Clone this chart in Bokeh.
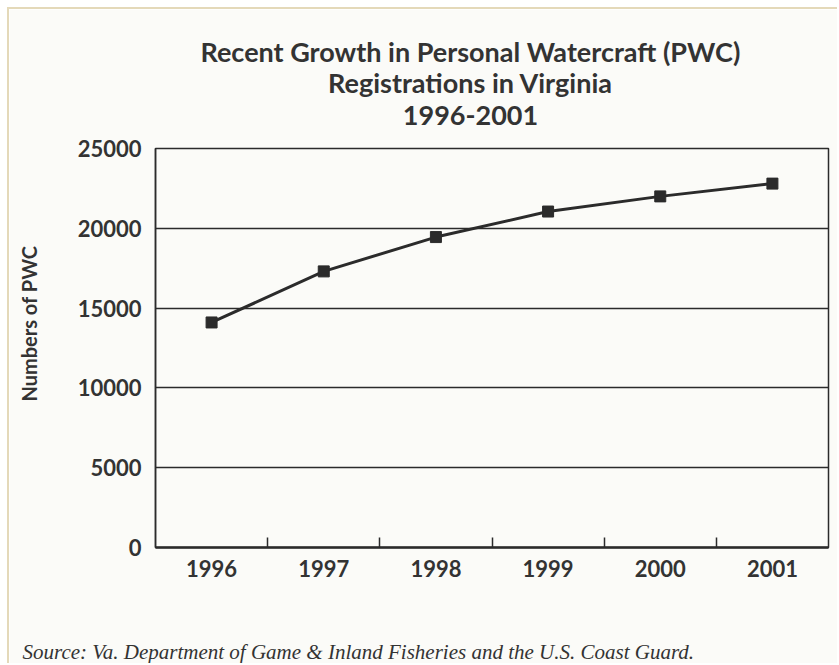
import math

from bokeh.plotting import figure
from bokeh.models import Range1d, FixedTicker, Label
from bokeh.embed import file_html
from bokeh.resources import INLINE

# --- data -------------------------------------------------------------
years = [1996, 1997, 1998, 1999, 2000, 2001]
year_labels = ["1996", "1997", "1998", "1999", "2000", "2001"]
registrations = [14100, 17300, 19450, 21050, 22000, 22800]
y_ticks = [0, 5000, 10000, 15000, 20000, 25000]
y_tick_labels = ["0", "5000", "10000", "15000", "20000", "25000"]

title_lines = [
    "Recent Growth in Personal Watercraft (PWC)",
    "Registrations in Virginia",
    "1996-2001",
]
y_title = "Numbers of PWC"
source_note = "Source: Va. Department of Game & Inland Fisheries and the U.S. Coast Guard."

# --- styling ----------------------------------------------------------
FONT = "Lato"
TEXT = "#333333"
INK = "#2b2b2b"
PAPER = "#fbfbf8"
EDGE = "#e4d9b9"

p = figure(
    width=830, height=656,
    x_range=Range1d(1995.5, 2001.5),
    y_range=Range1d(0, 25000),
    output_backend="svg",
    toolbar_location=None,
    min_border_left=146, min_border_top=139,
    min_border_right=11, min_border_bottom=118,
    background_fill_color=PAPER,
    border_fill_color=PAPER,
)
p.margin = (7, 0, 0, 7)
p.styles = {"border-top": f"2px solid {EDGE}", "border-left": f"2px solid {EDGE}"}

p.outline_line_color = INK
p.outline_line_width = 1.5

# x axis: year labels at the points, tick marks between the years
xa = p.xaxis[0]
xa.ticker = FixedTicker(ticks=years,
                        minor_ticks=[y + 0.5 for y in years[:-1]])
xa.major_label_overrides = {y: s for y, s in zip(years, year_labels)}
xa.major_tick_line_color = None
xa.major_tick_in = 0
xa.major_tick_out = 0
xa.minor_tick_line_color = INK
xa.minor_tick_line_width = 1.5
xa.minor_tick_in = 10
xa.minor_tick_out = 0
xa.axis_line_color = INK
xa.axis_line_width = 2.5
xa.major_label_standoff = 12
xa.major_label_text_font = FONT
xa.major_label_text_font_style = "bold"
xa.major_label_text_font_size = "22px"
xa.major_label_text_color = TEXT

# y axis
ya = p.yaxis[0]
ya.ticker = FixedTicker(ticks=y_ticks)
ya.major_label_overrides = {v: s for v, s in zip(y_ticks, y_tick_labels)}
ya.major_tick_line_color = None
ya.major_tick_in = 0
ya.major_tick_out = 0
ya.minor_tick_line_color = None
ya.axis_line_color = INK
ya.axis_line_width = 1.5
ya.major_label_standoff = 14
ya.major_label_text_font = FONT
ya.major_label_text_font_style = "bold"
ya.major_label_text_font_size = "22px"
ya.major_label_text_color = TEXT

p.xgrid.grid_line_color = None
p.ygrid.ticker = FixedTicker(ticks=y_ticks)
p.ygrid.grid_line_color = INK
p.ygrid.grid_line_width = 1.5

# series
p.line(years, registrations, line_color=INK, line_width=3)
p.scatter(years, registrations, marker="square", size=11,
          fill_color=INK, line_color=INK)

# three-line heading (offsets measured from the frame's top-left corner)
p.add_layout(Label(x=315, y=65.5, x_units="screen", y_units="screen",
                   text="\n".join(title_lines), text_align="center",
                   text_baseline="middle", text_line_height=0.95,
                   text_font=FONT, text_font_style="bold",
                   text_font_size="27px", text_color=TEXT), "above")

# vertical axis caption, in the panel left of the tick labels
p.add_layout(Label(x=-22, y=224, x_units="screen", y_units="screen",
                   text=y_title, angle=math.pi / 2, text_align="center",
                   text_baseline="middle", text_font=FONT,
                   text_font_style="bold", text_font_size="20px",
                   text_color=TEXT), "left")

# source note, in the panel under the year labels
p.add_layout(Label(x=-133, y=-48, x_units="screen", y_units="screen",
                   text=source_note, text_align="left",
                   text_baseline="alphabetic", text_font="Liberation Serif",
                   text_font_style="italic", text_font_size="21px",
                   text_color=TEXT), "below")

open("out.html", "w").write(file_html(p, INLINE))
